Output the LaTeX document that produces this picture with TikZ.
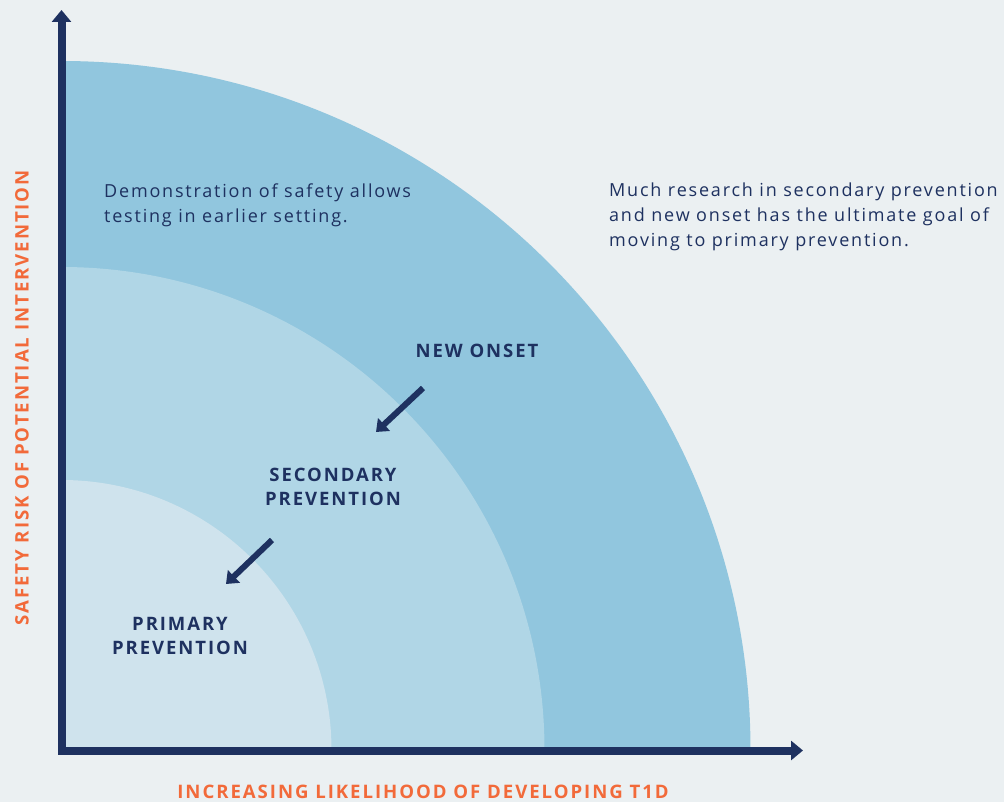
\documentclass[tikz,border=0pt]{standalone}
\usepackage{fontspec}
\setmainfont{Open Sans}
\newfontfamily\bodyfont[LetterSpace=10]{Open Sans}
\newfontfamily\capsfont[LetterSpace=10.5]{Open Sans}
\usetikzlibrary{arrows.meta}
\definecolor{bg}{RGB}{235,240,242}
\definecolor{outerc}{RGB}{145,198,222}
\definecolor{midc}{RGB}{176,214,230}
\definecolor{innerc}{RGB}{207,227,237}
\definecolor{navy}{RGB}{30,49,96}
\definecolor{orangec}{RGB}{242,106,58}
\begin{document}
\begin{tikzpicture}[x=1pt,y=-1pt,
  axis/.style={draw=navy,line width=8pt,-{Triangle[length=12pt,width=19pt]}},
  smallarrow/.style={draw=navy,line width=6pt,-{Triangle[length=11pt,width=17pt]}},
  bandlabel/.style={font=\capsfont\bfseries\fontsize{18.5}{24}\selectfont,text=navy,align=center,inner sep=0pt},
  bodytext/.style={font=\bodyfont\fontsize{18}{25}\selectfont,text=navy,align=left,inner sep=0pt,anchor=north west},
  axislabel/.style={font=\capsfont\bfseries\fontsize{18.6}{22}\selectfont,text=orangec,inner sep=0pt}]
\fill[bg] (0,0) rectangle (1004,802);
\useasboundingbox (0,0) rectangle (1004,802);
\coordinate (O) at (61.5,750);
\fill[outerc] (O) -- ++(689,0) arc[start angle=0,end angle=-90,radius=689] -- cycle;
\fill[midc] (O) -- ++(483,0) arc[start angle=0,end angle=-90,radius=483] -- cycle;
\fill[innerc] (O) -- ++(270,0) arc[start angle=0,end angle=-90,radius=270] -- cycle;
\coordinate (ybase) at (61.5,754);
\coordinate (ytip) at (61.5,10);
\coordinate (xbase) at (58,750.5);
\coordinate (xtip) at (803,750.5);
\draw[axis] (ybase) -- (ytip);
\draw[axis] (xbase) -- (xtip);
\node[bandlabel] (newonset) at (477,351) {NEW ONSET};
\node[bandlabel] (secondary) at (333,487) {SECONDARY\\PREVENTION};
\node[bandlabel] (primary) at (180,636) {PRIMARY\\PREVENTION};
\coordinate (a1s) at (423,388);
\coordinate (a1e) at (376,432);
\coordinate (a2s) at (272,540);
\coordinate (a2e) at (226,584);
\draw[smallarrow] (a1s) -- (a1e);
\draw[smallarrow] (a2s) -- (a2e);
\node[bodytext] (demo) at (104,184) {Demonstration of safety allows\\testing in earlier setting.};
\node[bodytext] (much) at (609,183) {Much research in secondary prevention\\and new onset has the ultimate goal of\\moving to primary prevention.};
\node[axislabel] (xlabel) at (423,792) {INCREASING LIKELIHOOD OF DEVELOPING T1D};
\node[axislabel,rotate=90] (ylabel) at (22,398) {SAFETY RISK OF POTENTIAL INTERVENTION};
\end{tikzpicture}
\end{document}
